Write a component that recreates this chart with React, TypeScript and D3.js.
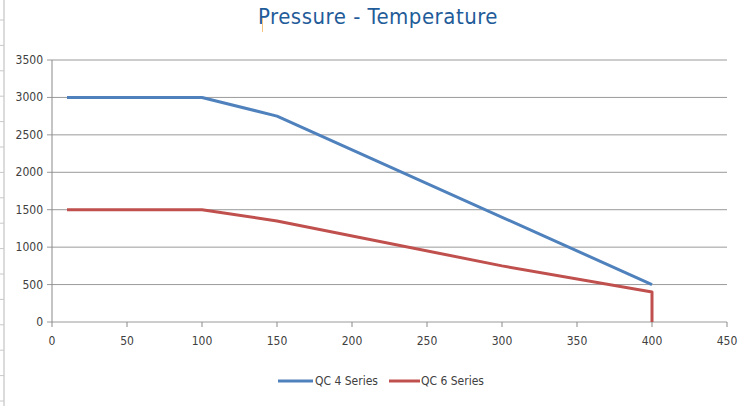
import * as d3 from "d3";
import React from "react";

const temps4 = [10, 100, 150, 400];
const pressure4 = [3000, 3000, 2750, 500];
const temps6 = [10, 100, 150, 300, 400, 400];
const pressure6 = [1500, 1500, 1350, 750, 400, 0];
const xTicks = [0, 50, 100, 150, 200, 250, 300, 350, 400, 450];
const yTicks = [0, 500, 1000, 1500, 2000, 2500, 3000, 3500];
const seriesNames = ["QC 4 Series", "QC 6 Series"];

const W = 745;
const H = 406;
const margin = { top: 60, right: 18, bottom: 84, left: 52 };
const blue = "#4F81BD";
const red = "#C0504D";
const labelFont = "'Liberation Sans Narrow', 'DejaVu Sans Condensed', sans-serif";

export default function App() {
  const x = d3.scaleLinear().domain([0, 450]).range([margin.left, W - margin.right]);
  const y = d3.scaleLinear().domain([0, 3500]).range([H - margin.bottom, margin.top]);

  const line = d3
    .line<[number, number]>()
    .x((d) => x(d[0]))
    .y((d) => y(d[1]));

  const s4 = temps4.map((t, i) => [t, pressure4[i]] as [number, number]);
  const s6 = temps6.map((t, i) => [t, pressure6[i]] as [number, number]);

  // spreadsheet row marks on the far left edge
  const rowMarks = d3.range(20, H, 25.4);

  return (
    <svg
      width={W}
      height={H}
      style={{ position: "absolute", left: 0, top: 0, background: "#fff" }}
    >
      <line x1={4} x2={4} y1={0} y2={H} stroke="#b8b8b8" strokeWidth={1} />
      {rowMarks.map((r) => (
        <line key={r} x1={0} x2={4} y1={r} y2={r} stroke="#c8c8c8" strokeWidth={1} />
      ))}

      <text
        x={378}
        y={24}
        textAnchor="middle"
        fill="#1F5C99"
        fontSize={22}
        letterSpacing={0.5}
        fontFamily="'DejaVu Sans Condensed', 'Open Sans', sans-serif"
      >
        Pressure - Temperature
      </text>
      <line x1={262.5} x2={262.5} y1={18} y2={32} stroke="#f5c580" strokeWidth={1} />

      {/* gridlines */}
      {yTicks.map((t) => (
        <line
          key={t}
          x1={margin.left - 5}
          x2={x(450)}
          y1={y(t)}
          y2={y(t)}
          stroke="#9a9a9a"
          strokeWidth={1}
        />
      ))}
      <line x1={x(0)} x2={x(0)} y1={y(3500)} y2={y(0)} stroke="#8a8a8a" />
      {xTicks.map((t) => (
        <line key={t} x1={x(t)} x2={x(t)} y1={y(0)} y2={y(0) + 5} stroke="#8a8a8a" />
      ))}

      {yTicks.map((t) => (
        <text
          key={t}
          x={margin.left - 9}
          y={y(t) + 4}
          textAnchor="end"
          fontSize={12}
          fill="#404040"
          fontFamily={labelFont}
        >
          {t}
        </text>
      ))}
      {xTicks.map((t) => (
        <text
          key={t}
          x={x(t)}
          y={y(0) + 23}
          textAnchor="middle"
          fontSize={12}
          fill="#404040"
          fontFamily={labelFont}
        >
          {t}
        </text>
      ))}

      <path d={line(s4) ?? ""} fill="none" stroke={blue} strokeWidth={3} strokeLinejoin="round" />
      <path d={line(s6) ?? ""} fill="none" stroke={red} strokeWidth={3} strokeLinejoin="round" />

      {/* legend */}
      <line x1={278} x2={313} y1={381} y2={381} stroke={blue} strokeWidth={3} />
      <text x={315} y={385} fontSize={12} fill="#404040" fontFamily={labelFont}>
        {seriesNames[0]}
      </text>
      <line x1={389} x2={420} y1={381} y2={381} stroke={red} strokeWidth={3} />
      <text x={421} y={385} fontSize={12} fill="#404040" fontFamily={labelFont}>
        {seriesNames[1]}
      </text>
    </svg>
  );
}
